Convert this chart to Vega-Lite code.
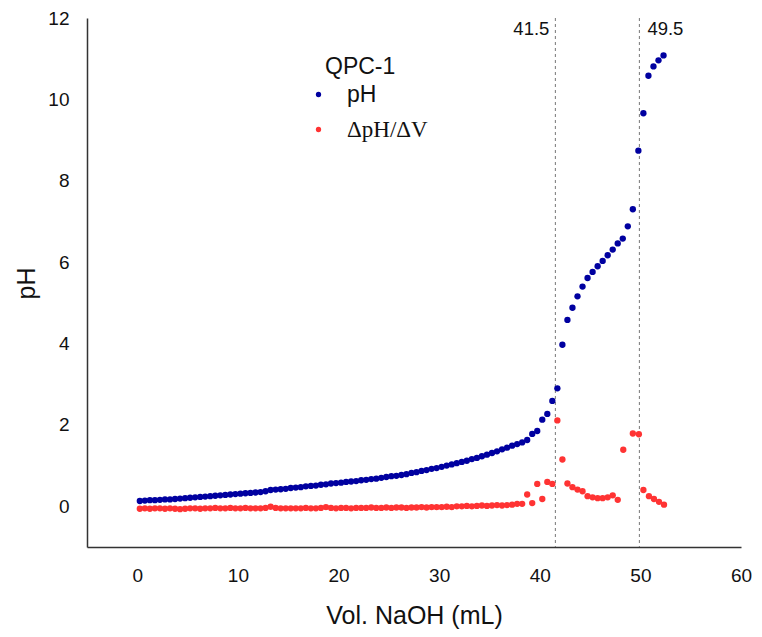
{
  "$schema": "https://vega.github.io/schema/vega-lite/v6.json",
  "width": 654,
  "height": 529,
  "autosize": "none",
  "padding": {"left": 87, "top": 18, "right": 21, "bottom": 90},
  "background": "white",
  "config": {
    "view": {"stroke": null},
    "axis": {"grid": false, "ticks": false, "domainColor": "#333", "domainWidth": 1.5, "labelFont": "Liberation Sans", "labelFontSize": 19, "labelColor": "#111", "titleFont": "Liberation Sans", "titleFontSize": 25, "titleFontWeight": "normal", "titleColor": "#111", "labelFlush": false}
  },
  "datasets": {
    "titration": [
      {"vol": 0.25, "val": 0.13, "series": "pH"}, {"vol": 0.75, "val": 0.14, "series": "pH"}, {"vol": 1.25, "val": 0.15, "series": "pH"}, {"vol": 1.75, "val": 0.15, "series": "pH"},
      {"vol": 2.25, "val": 0.16, "series": "pH"}, {"vol": 2.75, "val": 0.17, "series": "pH"}, {"vol": 3.25, "val": 0.17, "series": "pH"}, {"vol": 3.75, "val": 0.18, "series": "pH"},
      {"vol": 4.25, "val": 0.19, "series": "pH"}, {"vol": 4.75, "val": 0.2, "series": "pH"}, {"vol": 5.25, "val": 0.21, "series": "pH"}, {"vol": 5.75, "val": 0.22, "series": "pH"},
      {"vol": 6.25, "val": 0.23, "series": "pH"}, {"vol": 6.75, "val": 0.24, "series": "pH"}, {"vol": 7.25, "val": 0.25, "series": "pH"}, {"vol": 7.75, "val": 0.26, "series": "pH"},
      {"vol": 8.25, "val": 0.27, "series": "pH"}, {"vol": 8.75, "val": 0.28, "series": "pH"}, {"vol": 9.25, "val": 0.29, "series": "pH"}, {"vol": 9.75, "val": 0.3, "series": "pH"},
      {"vol": 10.25, "val": 0.31, "series": "pH"}, {"vol": 10.75, "val": 0.32, "series": "pH"}, {"vol": 11.25, "val": 0.33, "series": "pH"}, {"vol": 11.75, "val": 0.34, "series": "pH"},
      {"vol": 12.25, "val": 0.35, "series": "pH"}, {"vol": 12.75, "val": 0.37, "series": "pH"}, {"vol": 13.25, "val": 0.4, "series": "pH"}, {"vol": 13.75, "val": 0.41, "series": "pH"},
      {"vol": 14.25, "val": 0.42, "series": "pH"}, {"vol": 14.75, "val": 0.43, "series": "pH"}, {"vol": 15.25, "val": 0.45, "series": "pH"}, {"vol": 15.75, "val": 0.46, "series": "pH"},
      {"vol": 16.25, "val": 0.47, "series": "pH"}, {"vol": 16.75, "val": 0.49, "series": "pH"}, {"vol": 17.25, "val": 0.5, "series": "pH"}, {"vol": 17.75, "val": 0.51, "series": "pH"},
      {"vol": 18.25, "val": 0.53, "series": "pH"}, {"vol": 18.75, "val": 0.54, "series": "pH"}, {"vol": 19.25, "val": 0.56, "series": "pH"}, {"vol": 19.75, "val": 0.57, "series": "pH"},
      {"vol": 20.25, "val": 0.58, "series": "pH"}, {"vol": 20.75, "val": 0.6, "series": "pH"}, {"vol": 21.25, "val": 0.61, "series": "pH"}, {"vol": 21.75, "val": 0.62, "series": "pH"},
      {"vol": 22.25, "val": 0.64, "series": "pH"}, {"vol": 22.75, "val": 0.65, "series": "pH"}, {"vol": 23.25, "val": 0.67, "series": "pH"}, {"vol": 23.75, "val": 0.68, "series": "pH"},
      {"vol": 24.25, "val": 0.7, "series": "pH"}, {"vol": 24.75, "val": 0.72, "series": "pH"}, {"vol": 25.25, "val": 0.74, "series": "pH"}, {"vol": 25.75, "val": 0.75, "series": "pH"},
      {"vol": 26.25, "val": 0.77, "series": "pH"}, {"vol": 26.75, "val": 0.79, "series": "pH"}, {"vol": 27.25, "val": 0.82, "series": "pH"}, {"vol": 27.75, "val": 0.84, "series": "pH"},
      {"vol": 28.25, "val": 0.87, "series": "pH"}, {"vol": 28.75, "val": 0.89, "series": "pH"}, {"vol": 29.25, "val": 0.92, "series": "pH"}, {"vol": 29.75, "val": 0.94, "series": "pH"},
      {"vol": 30.25, "val": 0.97, "series": "pH"}, {"vol": 30.75, "val": 1.0, "series": "pH"}, {"vol": 31.25, "val": 1.03, "series": "pH"}, {"vol": 31.75, "val": 1.06, "series": "pH"},
      {"vol": 32.25, "val": 1.09, "series": "pH"}, {"vol": 32.75, "val": 1.12, "series": "pH"}, {"vol": 33.25, "val": 1.16, "series": "pH"}, {"vol": 33.75, "val": 1.19, "series": "pH"},
      {"vol": 34.25, "val": 1.23, "series": "pH"}, {"vol": 34.75, "val": 1.27, "series": "pH"}, {"vol": 35.25, "val": 1.31, "series": "pH"}, {"vol": 35.75, "val": 1.35, "series": "pH"},
      {"vol": 36.25, "val": 1.4, "series": "pH"}, {"vol": 36.75, "val": 1.44, "series": "pH"}, {"vol": 37.25, "val": 1.49, "series": "pH"}, {"vol": 37.75, "val": 1.53, "series": "pH"},
      {"vol": 38.25, "val": 1.57, "series": "pH"}, {"vol": 38.75, "val": 1.63, "series": "pH"}, {"vol": 39.25, "val": 1.78, "series": "pH"}, {"vol": 39.75, "val": 1.85, "series": "pH"},
      {"vol": 40.25, "val": 2.13, "series": "pH"}, {"vol": 40.75, "val": 2.27, "series": "pH"}, {"vol": 41.25, "val": 2.59, "series": "pH"}, {"vol": 41.75, "val": 2.9, "series": "pH"},
      {"vol": 42.25, "val": 3.97, "series": "pH"}, {"vol": 42.75, "val": 4.58, "series": "pH"}, {"vol": 43.25, "val": 4.88, "series": "pH"}, {"vol": 43.75, "val": 5.16, "series": "pH"},
      {"vol": 44.25, "val": 5.4, "series": "pH"}, {"vol": 44.75, "val": 5.61, "series": "pH"}, {"vol": 45.25, "val": 5.76, "series": "pH"}, {"vol": 45.75, "val": 5.9, "series": "pH"},
      {"vol": 46.25, "val": 6.03, "series": "pH"}, {"vol": 46.75, "val": 6.17, "series": "pH"}, {"vol": 47.25, "val": 6.31, "series": "pH"}, {"vol": 47.75, "val": 6.46, "series": "pH"},
      {"vol": 48.25, "val": 6.58, "series": "pH"}, {"vol": 48.75, "val": 6.88, "series": "pH"}, {"vol": 49.25, "val": 7.3, "series": "pH"}, {"vol": 49.8, "val": 8.74, "series": "pH"},
      {"vol": 50.3, "val": 9.66, "series": "pH"}, {"vol": 50.8, "val": 10.58, "series": "pH"}, {"vol": 51.3, "val": 10.81, "series": "pH"}, {"vol": 51.8, "val": 10.96, "series": "pH"},
      {"vol": 52.3, "val": 11.08, "series": "pH"},

      {"vol": 0.25, "val": -0.06, "series": "ΔpH/ΔV"}, {"vol": 0.75, "val": -0.05, "series": "ΔpH/ΔV"}, {"vol": 1.25, "val": -0.06, "series": "ΔpH/ΔV"}, {"vol": 1.75, "val": -0.05, "series": "ΔpH/ΔV"},
      {"vol": 2.25, "val": -0.05, "series": "ΔpH/ΔV"}, {"vol": 2.75, "val": -0.06, "series": "ΔpH/ΔV"}, {"vol": 3.25, "val": -0.05, "series": "ΔpH/ΔV"}, {"vol": 3.75, "val": -0.06, "series": "ΔpH/ΔV"},
      {"vol": 4.25, "val": -0.07, "series": "ΔpH/ΔV"}, {"vol": 4.75, "val": -0.06, "series": "ΔpH/ΔV"}, {"vol": 5.25, "val": -0.05, "series": "ΔpH/ΔV"}, {"vol": 5.75, "val": -0.05, "series": "ΔpH/ΔV"},
      {"vol": 6.25, "val": -0.06, "series": "ΔpH/ΔV"}, {"vol": 6.75, "val": -0.05, "series": "ΔpH/ΔV"}, {"vol": 7.25, "val": -0.05, "series": "ΔpH/ΔV"}, {"vol": 7.75, "val": -0.04, "series": "ΔpH/ΔV"},
      {"vol": 8.25, "val": -0.05, "series": "ΔpH/ΔV"}, {"vol": 8.75, "val": -0.05, "series": "ΔpH/ΔV"}, {"vol": 9.25, "val": -0.04, "series": "ΔpH/ΔV"}, {"vol": 9.75, "val": -0.05, "series": "ΔpH/ΔV"},
      {"vol": 10.25, "val": -0.05, "series": "ΔpH/ΔV"}, {"vol": 10.75, "val": -0.04, "series": "ΔpH/ΔV"}, {"vol": 11.25, "val": -0.05, "series": "ΔpH/ΔV"}, {"vol": 11.75, "val": -0.05, "series": "ΔpH/ΔV"},
      {"vol": 12.25, "val": -0.05, "series": "ΔpH/ΔV"}, {"vol": 12.75, "val": -0.04, "series": "ΔpH/ΔV"}, {"vol": 13.25, "val": -0.01, "series": "ΔpH/ΔV"}, {"vol": 13.75, "val": -0.04, "series": "ΔpH/ΔV"},
      {"vol": 14.25, "val": -0.05, "series": "ΔpH/ΔV"}, {"vol": 14.75, "val": -0.05, "series": "ΔpH/ΔV"}, {"vol": 15.25, "val": -0.05, "series": "ΔpH/ΔV"}, {"vol": 15.75, "val": -0.05, "series": "ΔpH/ΔV"},
      {"vol": 16.25, "val": -0.05, "series": "ΔpH/ΔV"}, {"vol": 16.75, "val": -0.04, "series": "ΔpH/ΔV"}, {"vol": 17.25, "val": -0.05, "series": "ΔpH/ΔV"}, {"vol": 17.75, "val": -0.05, "series": "ΔpH/ΔV"},
      {"vol": 18.25, "val": -0.04, "series": "ΔpH/ΔV"}, {"vol": 18.75, "val": -0.02, "series": "ΔpH/ΔV"}, {"vol": 19.25, "val": -0.04, "series": "ΔpH/ΔV"}, {"vol": 19.75, "val": -0.05, "series": "ΔpH/ΔV"},
      {"vol": 20.25, "val": -0.04, "series": "ΔpH/ΔV"}, {"vol": 20.75, "val": -0.04, "series": "ΔpH/ΔV"}, {"vol": 21.25, "val": -0.05, "series": "ΔpH/ΔV"}, {"vol": 21.75, "val": -0.04, "series": "ΔpH/ΔV"},
      {"vol": 22.25, "val": -0.04, "series": "ΔpH/ΔV"}, {"vol": 22.75, "val": -0.04, "series": "ΔpH/ΔV"}, {"vol": 23.25, "val": -0.03, "series": "ΔpH/ΔV"}, {"vol": 23.75, "val": -0.04, "series": "ΔpH/ΔV"},
      {"vol": 24.25, "val": -0.04, "series": "ΔpH/ΔV"}, {"vol": 24.75, "val": -0.03, "series": "ΔpH/ΔV"}, {"vol": 25.25, "val": -0.04, "series": "ΔpH/ΔV"}, {"vol": 25.75, "val": -0.03, "series": "ΔpH/ΔV"},
      {"vol": 26.25, "val": -0.03, "series": "ΔpH/ΔV"}, {"vol": 26.75, "val": -0.04, "series": "ΔpH/ΔV"}, {"vol": 27.25, "val": -0.03, "series": "ΔpH/ΔV"}, {"vol": 27.75, "val": -0.03, "series": "ΔpH/ΔV"},
      {"vol": 28.25, "val": -0.02, "series": "ΔpH/ΔV"}, {"vol": 28.75, "val": -0.03, "series": "ΔpH/ΔV"}, {"vol": 29.25, "val": -0.02, "series": "ΔpH/ΔV"}, {"vol": 29.75, "val": -0.02, "series": "ΔpH/ΔV"},
      {"vol": 30.25, "val": -0.02, "series": "ΔpH/ΔV"}, {"vol": 30.75, "val": -0.01, "series": "ΔpH/ΔV"}, {"vol": 31.25, "val": -0.02, "series": "ΔpH/ΔV"}, {"vol": 31.75, "val": 0.0, "series": "ΔpH/ΔV"},
      {"vol": 32.25, "val": 0.0, "series": "ΔpH/ΔV"}, {"vol": 32.75, "val": 0.01, "series": "ΔpH/ΔV"}, {"vol": 33.25, "val": 0.0, "series": "ΔpH/ΔV"}, {"vol": 33.75, "val": 0.01, "series": "ΔpH/ΔV"},
      {"vol": 34.25, "val": 0.02, "series": "ΔpH/ΔV"}, {"vol": 34.75, "val": 0.01, "series": "ΔpH/ΔV"}, {"vol": 35.25, "val": 0.02, "series": "ΔpH/ΔV"}, {"vol": 35.75, "val": 0.03, "series": "ΔpH/ΔV"},
      {"vol": 36.25, "val": 0.02, "series": "ΔpH/ΔV"}, {"vol": 36.75, "val": 0.03, "series": "ΔpH/ΔV"}, {"vol": 37.25, "val": 0.04, "series": "ΔpH/ΔV"}, {"vol": 37.75, "val": 0.06, "series": "ΔpH/ΔV"},
      {"vol": 38.25, "val": 0.06, "series": "ΔpH/ΔV"}, {"vol": 38.75, "val": 0.29, "series": "ΔpH/ΔV"}, {"vol": 39.25, "val": 0.08, "series": "ΔpH/ΔV"}, {"vol": 39.75, "val": 0.55, "series": "ΔpH/ΔV"},
      {"vol": 40.25, "val": 0.18, "series": "ΔpH/ΔV"}, {"vol": 40.75, "val": 0.6, "series": "ΔpH/ΔV"}, {"vol": 41.25, "val": 0.55, "series": "ΔpH/ΔV"}, {"vol": 41.75, "val": 2.11, "series": "ΔpH/ΔV"},
      {"vol": 42.25, "val": 1.15, "series": "ΔpH/ΔV"}, {"vol": 42.75, "val": 0.56, "series": "ΔpH/ΔV"}, {"vol": 43.25, "val": 0.47, "series": "ΔpH/ΔV"}, {"vol": 43.75, "val": 0.41, "series": "ΔpH/ΔV"},
      {"vol": 44.25, "val": 0.37, "series": "ΔpH/ΔV"}, {"vol": 44.75, "val": 0.25, "series": "ΔpH/ΔV"}, {"vol": 45.25, "val": 0.22, "series": "ΔpH/ΔV"}, {"vol": 45.75, "val": 0.2, "series": "ΔpH/ΔV"},
      {"vol": 46.25, "val": 0.2, "series": "ΔpH/ΔV"}, {"vol": 46.75, "val": 0.22, "series": "ΔpH/ΔV"}, {"vol": 47.25, "val": 0.27, "series": "ΔpH/ΔV"}, {"vol": 47.75, "val": 0.16, "series": "ΔpH/ΔV"},
      {"vol": 48.3, "val": 1.39, "series": "ΔpH/ΔV"}, {"vol": 49.25, "val": 1.79, "series": "ΔpH/ΔV"}, {"vol": 49.85, "val": 1.77, "series": "ΔpH/ΔV"}, {"vol": 50.3, "val": 0.4, "series": "ΔpH/ΔV"},
      {"vol": 50.85, "val": 0.25, "series": "ΔpH/ΔV"}, {"vol": 51.35, "val": 0.18, "series": "ΔpH/ΔV"}, {"vol": 51.85, "val": 0.11, "series": "ΔpH/ΔV"}, {"vol": 52.35, "val": 0.04, "series": "ΔpH/ΔV"}
    ],
    "markers": [
      {"vol": 41.55, "label": "41.5", "side": "left"},
      {"vol": 49.9, "label": "49.5", "side": "right"}
    ]
  },
  "layer": [
    {
      "data": {"name": "markers"},
      "mark": {"type": "rule", "color": "#777", "strokeDash": [3, 3], "strokeWidth": 1},
      "encoding": {
        "x": {"field": "vol", "type": "quantitative", "scale": {"domain": [-5, 60]}}
      }
    },
    {
      "data": {"name": "markers"},
      "transform": [{"filter": "datum.side === 'left'"}],
      "mark": {"type": "text", "align": "right", "baseline": "middle", "dx": -6, "fontSize": 18.5, "font": "Liberation Sans", "color": "#111"},
      "encoding": {
        "x": {"field": "vol", "type": "quantitative"},
        "y": {"datum": 11.72, "type": "quantitative"},
        "text": {"field": "label"}
      }
    },
    {
      "data": {"name": "markers"},
      "transform": [{"filter": "datum.side === 'right'"}],
      "mark": {"type": "text", "align": "left", "baseline": "middle", "dx": 8, "fontSize": 18.5, "font": "Liberation Sans", "color": "#111"},
      "encoding": {
        "x": {"field": "vol", "type": "quantitative"},
        "y": {"datum": 11.72, "type": "quantitative"},
        "text": {"field": "label"}
      }
    },
    {
      "data": {"name": "titration"},
      "mark": {"type": "circle", "size": 40, "opacity": 1},
      "encoding": {
        "x": {"field": "vol", "type": "quantitative", "title": "Vol. NaOH (mL)",
          "scale": {"domain": [-5, 60], "nice": false, "zero": false},
          "axis": {"values": [0, 10, 20, 30, 40, 50, 60], "labelPadding": 19, "titlePadding": 18}},
        "y": {"field": "val", "type": "quantitative", "title": "pH",
          "scale": {"domain": [-1, 12], "nice": false, "zero": false},
          "axis": {"values": [0, 2, 4, 6, 8, 10, 12], "labelPadding": 18, "titleX": -48, "titleY": 265, "titleAngle": -90, "titleBaseline": "bottom", "titleAlign": "center"}},
        "color": {"field": "series", "type": "nominal",
          "scale": {"domain": ["pH", "ΔpH/ΔV"], "range": ["#0000A0", "#FF3333"]},
          "legend": {
            "title": "QPC-1", "orient": "none", "legendX": 238, "legendY": 38,
            "titleFont": "Liberation Sans", "titleFontSize": 23, "titleFontWeight": "normal", "titleColor": "#111", "titlePadding": 4, "titleAnchor": "start",
            "labelFontSize": 23, "labelColor": "#111", "labelOffset": 17, "rowPadding": 11,
            "labelFont": {"expr": "datum.index === 0 ? 'Liberation Sans' : 'Liberation Serif'"},
            "symbolType": "circle", "symbolSize": 28, "symbolStrokeWidth": 0, "symbolOffset": -18
          }}
      }
    }
  ]
}
